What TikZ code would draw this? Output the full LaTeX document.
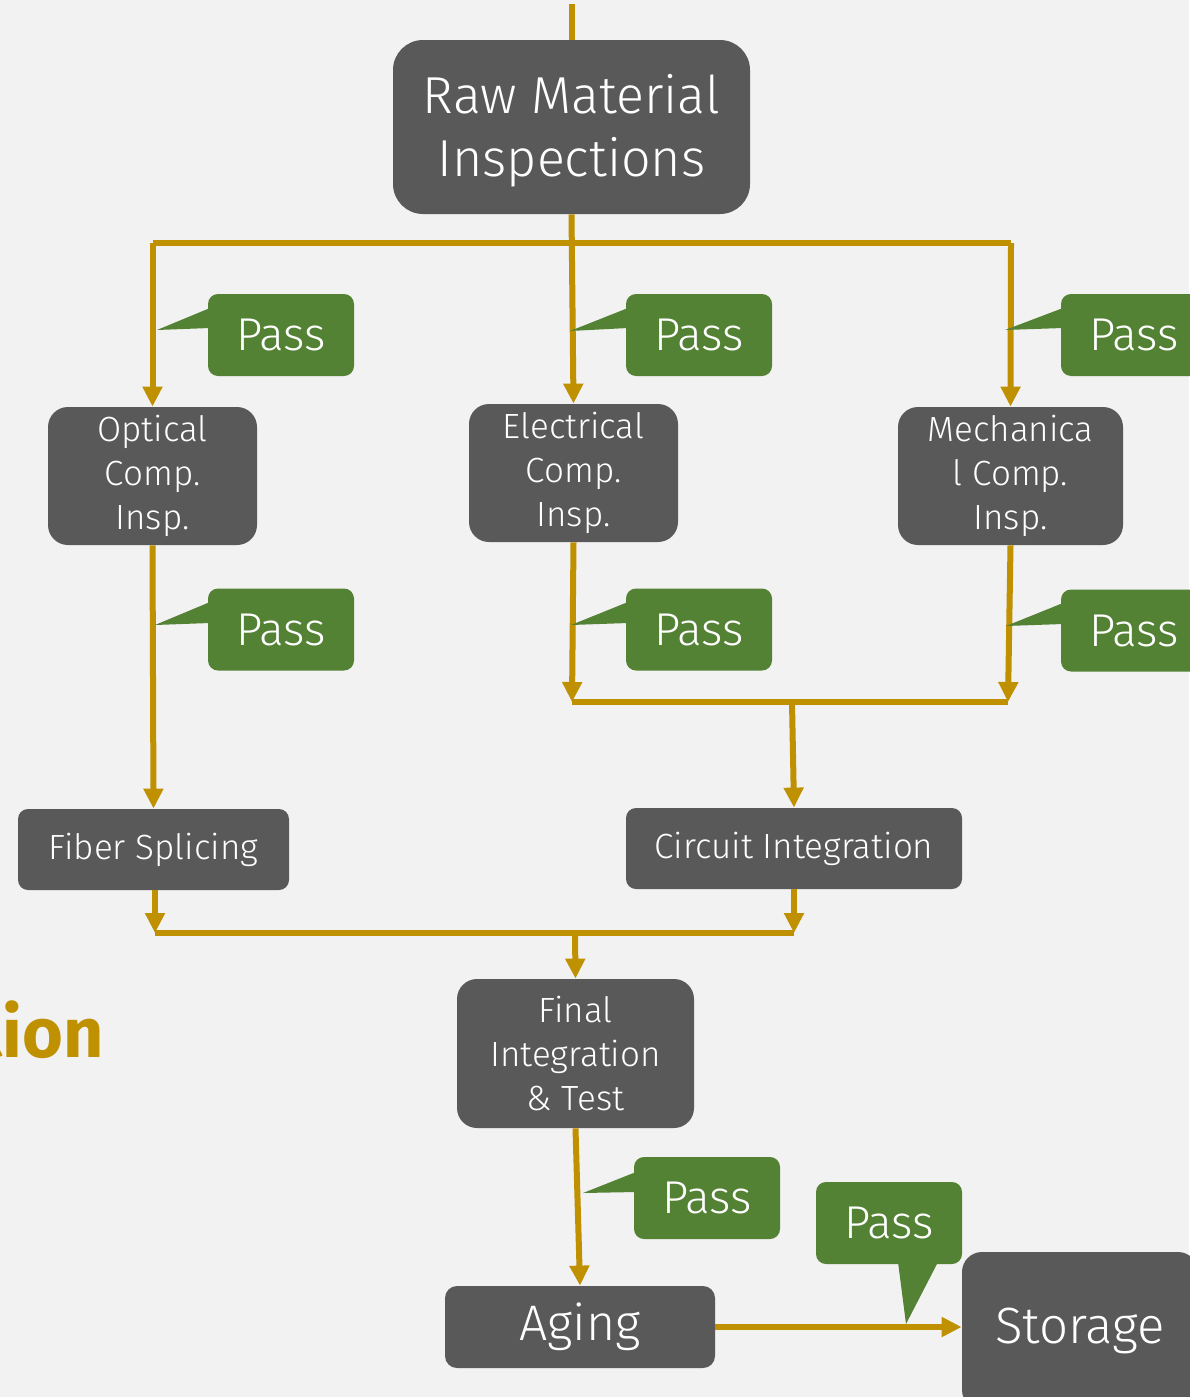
\documentclass[tikz,border=0pt]{standalone}
\usepackage{fontspec}
\setmainfont{Fira Sans Light}[BoldFont=Fira Sans Bold]
\usetikzlibrary{arrows.meta}
\definecolor{bg}{HTML}{F2F2F2}
\definecolor{boxgray}{HTML}{595959}
\definecolor{passgreen}{HTML}{548235}
\definecolor{gold}{HTML}{BF9000}
\begin{document}
\begin{tikzpicture}[x=0.5pt,y=-0.5pt,
  box/.style={fill=boxgray,text=white,rounded corners=10pt,inner sep=0pt,align=center,
    font=\fontsize{17.5}{22}\selectfont},
  passbox/.style={fill=passgreen,text=white,rounded corners=5pt,minimum width=73pt,
    minimum height=41pt,inner sep=0pt,font=\fontsize{23}{27}\selectfont},
  flow/.style={draw=gold,line width=3pt},
  arr/.style={flow,-{Triangle[width=9.5pt,length=10pt]}}]
\fill[bg] (0,0) rectangle (1189,1397);
\useasboundingbox (0,0) rectangle (1189,1397);

% title fragment
\node[anchor=base east,text=gold,inner sep=0pt,font=\bfseries\fontsize{35}{40}\selectfont] (tion) at (104,1057) {tion};

% boxes
\node[box,minimum width=178.5pt,minimum height=87pt,rounded corners=15pt,font=\fontsize{26}{31.5}\selectfont] (raw) at (571.5,127) {};
\node[text=white,align=center,inner sep=0pt,font=\fontsize{26}{31.5}\selectfont] (rawtxt) at (571.5,131) {Raw Material\\Inspections};
\node[box,minimum width=104.5pt,minimum height=69pt] (opt) at (152.5,476) {Optical\\Comp.\\Insp.};
\node[box,minimum width=104.5pt,minimum height=69pt] (elec) at (573.5,473) {Electrical\\Comp.\\Insp.};
\node[box,minimum width=112.5pt,minimum height=69pt] (mech) at (1010.5,476) {Mechanica\\l Comp.\\Insp.};
\node[box,minimum width=135.5pt,minimum height=40.5pt,rounded corners=5pt] (fiber) at (153.5,849.5) {Fiber Splicing};
\node[box,minimum width=168pt,minimum height=40.5pt,rounded corners=5pt] (circ) at (794,848.5) {Circuit Integration};
\node[box,minimum width=118.5pt,minimum height=74.5pt] (final) at (575.5,1053.5) {Final\\Integration\\\& Test};
\node[box,minimum width=135pt,minimum height=41pt,rounded corners=6pt,font=\fontsize{25}{30}\selectfont] (aging) at (580,1327) {Aging};
\node[box,minimum width=118pt,minimum height=79pt,font=\fontsize{25.5}{30}\selectfont] (storage) at (1080,1331) {Storage};

% junction points
\coordinate (top) at (571.5,4);
\coordinate (bL) at (152.5,243);
\coordinate (bR) at (1011,243);
\coordinate (m1) at (572,702);
\coordinate (m2) at (1008,702);
\coordinate (m3) at (792,702);
\coordinate (l1) at (155,933);
\coordinate (l2) at (794,933);
\coordinate (l3) at (575,933);

% connectors
\draw[flow] (top) -- (raw.north);
\draw[flow] (bL) -- (bR);
\draw[arr] (raw.south) -- (elec.north);
\draw[arr] (bL) -- (opt.north);
\draw[arr] (bR) -- (mech.north);
\draw[arr] (opt.south) -- (fiber.north);
\draw[arr] (elec.south) -- (m1);
\draw[arr] (mech.south) -- (m2);
\draw[flow] (m1) -- (m2);
\draw[arr] (m3) -- (circ.north);
\draw[arr] (fiber.south -| l1) -- (l1);
\draw[arr] (circ.south) -- (l2);
\draw[flow] (l1) -- (l2);
\draw[arr] (l3) -- (final.north);
\draw[arr] (final.south) -- (aging.north);
\draw[arr] (aging.east) -- (aging.east -| storage.west);

% pass callouts
\node[passbox] (p1) at (281,335) {Pass};
\fill[passgreen] (210,308) -- (157,330) -- (210,328) -- cycle;
\node[passbox] (p2) at (699,335) {Pass};
\fill[passgreen] (628,308) -- (570,331) -- (628,328) -- cycle;
\node[passbox] (p3) at (1134,335) {Pass};
\fill[passgreen] (1063,308) -- (1005,330) -- (1063,328) -- cycle;
\node[passbox] (p4) at (281,629.5) {Pass};
\fill[passgreen] (210,602) -- (155,625) -- (210,623) -- cycle;
\node[passbox] (p5) at (699,629.5) {Pass};
\fill[passgreen] (628,602) -- (571,625) -- (628,623) -- cycle;
\node[passbox] (p6) at (1134,630.5) {Pass};
\fill[passgreen] (1063,603) -- (1006,626) -- (1063,624) -- cycle;
\node[passbox] (p7) at (707,1198) {Pass};
\fill[passgreen] (636,1172) -- (583,1193) -- (636,1192) -- cycle;
\node[passbox] (p8) at (889,1223) {Pass};
\fill[passgreen] (898,1262) -- (906,1324) -- (938,1262) -- cycle;
\end{tikzpicture}
\end{document}
